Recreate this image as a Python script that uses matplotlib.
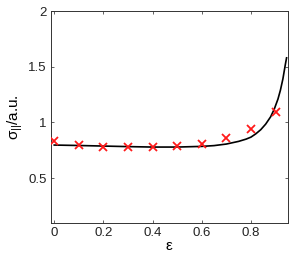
import matplotlib
matplotlib.use("Agg")
import matplotlib.pyplot as plt

plt.rcParams['font.family'] = ['Liberation Sans', 'DejaVu Sans']
plt.rcParams['mathtext.fontset'] = 'custom'
plt.rcParams['mathtext.rm'] = 'Liberation Sans'
plt.rcParams['mathtext.it'] = 'Liberation Sans'

# measured points (red crosses)
eps_pts = [0.0, 0.1, 0.2, 0.3, 0.4, 0.5, 0.6, 0.7, 0.8, 0.9]
sigma_pts = [0.835, 0.80, 0.784, 0.784, 0.781, 0.79, 0.805, 0.862, 0.943, 1.096]

# model curve
eps_curve = [0.0, 0.1, 0.2, 0.3, 0.4, 0.5, 0.6, 0.65, 0.7, 0.75, 0.78, 0.8, 0.82,
             0.84, 0.86, 0.88, 0.895, 0.91, 0.92, 0.93, 0.94, 0.945]
sigma_curve = [0.797, 0.793, 0.788, 0.783, 0.779, 0.779, 0.785, 0.792, 0.806, 0.83,
               0.85, 0.868, 0.898, 0.935, 0.985, 1.05, 1.12, 1.21, 1.29, 1.39, 1.52, 1.58]

fig = plt.figure(figsize=(2.91, 2.57), dpi=100)
ax = fig.add_axes([0.175, 0.1335, 0.814, 0.8235])

ax.plot(eps_curve, sigma_curve, color='black', lw=1.2)
ax.plot(eps_pts, sigma_pts, 'x', color='#ff1a1a', ms=6, mew=1.3, zorder=3)

ax.set_xlim(-0.0135, 0.95)
ax.set_ylim(0.1, 2)
ax.set_xticks([0, 0.2, 0.4, 0.6, 0.8])
ax.set_xticklabels(['0', '0.2', '0.4', '0.6', '0.8'])
ax.set_yticks([0.5, 1, 1.5, 2])
ax.set_yticklabels(['0.5', '1', '1.5', '2'])
ax.tick_params(direction='in', length=2.5, width=0.5, labelsize=9.5,
               top=True, right=True, colors='#222222', pad=3)
for s in ax.spines.values():
    s.set_linewidth(0.7)
    s.set_color('#333333')

ax.set_xlabel('\u03b5', fontsize=11, labelpad=0)
ax.set_ylabel(r'$\sigma_{||}$/a.u.', fontsize=11, labelpad=2)

fig.savefig('out.png', dpi=100)
